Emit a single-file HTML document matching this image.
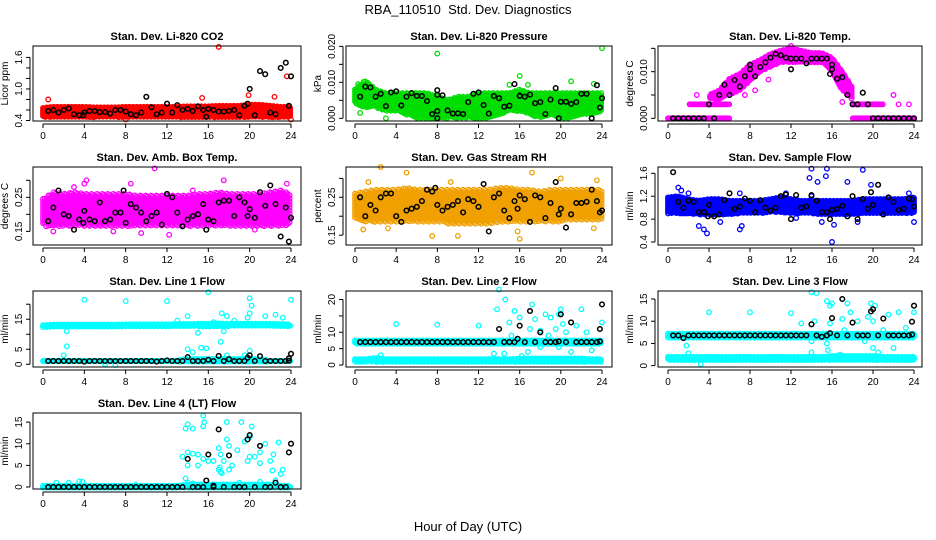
<!DOCTYPE html>
<html><head><meta charset="utf-8"><style>
html,body{margin:0;padding:0;background:#fff;}
svg{display:block;font-family:"Liberation Sans",Arial,sans-serif;}
</style></head><body>
<svg id="chart" width="936" height="540" viewBox="0 0 936 540" xmlns="http://www.w3.org/2000/svg">
<text x="468" y="14" text-anchor="middle" font-size="13" xml:space="preserve">RBA_110510  Std. Dev. Diagnostics</text>
<text x="468" y="531" text-anchor="middle" font-size="13">Hour of Day (UTC)</text>
</svg>
<script>
const H48 = [];
for (let i = 1; i <= 48; i++) H48.push(i * 0.5);
const xTicks = [0, 4, 8, 12, 16, 20, 24];

// Panel 1 CO2
const p1Black = [0.58,0.6,0.55,0.6,0.63,0.52,0.5,0.55,0.58,0.58,0.56,0.56,0.53,0.6,0.6,0.57,0.52,0.5,0.55,0.85,0.65,0.52,0.55,0.72,0.55,0.69,0.6,0.62,0.58,0.67,0.6,0.62,0.6,0.57,0.57,0.58,0.6,0.5,0.68,1.0,0.5,1.34,1.28,0.55,0.52,1.4,1.5,1.24];
const p1Extra = [[19.8,0.72],[23.8,0.68],[15.8,0.47],[3.9,0.5]];
const p1Lo = [0.46,0.46,0.46,0.46,0.46,0.46,0.46,0.46,0.46,0.46,0.46,0.46,0.46,0.46,0.46,0.46,0.46,0.46,0.46,0.46,0.46,0.46,0.46,0.46,0.46];
const p1Hi = [0.64,0.66,0.66,0.66,0.66,0.65,0.65,0.65,0.66,0.66,0.66,0.66,0.66,0.66,0.67,0.67,0.67,0.68,0.68,0.68,0.7,0.7,0.68,0.66,0.66];
const p1Out = [[0.5,0.8],[8,0.42],[15.4,0.83],[17,1.8],[19.9,0.88],[22.4,0.85],[23.6,1.24],[24,0.42]];

// Panel 2 Pressure
const p2Black = [0.006,0.0088,0.0086,0.006,0.0068,0.0034,0.0072,0.0075,0.0036,0.006,0.007,0.0062,0.0062,0.0048,0.0012,0.0078,0.0064,0.0022,0.0013,0.0014,0.0012,0.0045,0.0068,0.0072,0.0037,0.0013,0.0062,0.0056,0.0032,0.0035,0.0095,0.0062,0.006,0.0066,0.0042,0.0045,0.0012,0.0052,0.0084,0.0046,0.0046,0.004,0.0045,0.0068,0.0068,0,0.0092,0.0056];
const p2Extra = [[8,0],[8,0.002],[19.8,0],[23.8,0.003],[8,0.0065],[16,0.0063]];
const p2Lo = [0.004,0.003,0.003,0.002,0.002,0.001,0,0,0,0,0,0,0,0,0.001,0.002,0.002,0.001,0,0.001,0,0,0.001,0.001,0.002];
const p2Hi = [0.008,0.0105,0.008,0.007,0.007,0.007,0.007,0.007,0.006,0.005,0.006,0.006,0.007,0.007,0.007,0.007,0.008,0.007,0.007,0.007,0.007,0.007,0.007,0.007,0.007];
const p2Out = [[0.3,0.0095],[0.5,0.0015],[3,0],[8,0.018],[16,0.0118],[16.8,0.0093],[21,0.0103],[23.2,0.0096],[24,0.0195],[15,0.0093]];

// Panel 3 Temp
const p3Black = [0,0,0,0,0,0,0,0.003,0,0.005,0.0072,0.005,0.0082,0.0068,0.009,0.0115,0.009,0.011,0.012,0.013,0.0138,0.0135,0.013,0.0128,0.0128,0.0128,0.0118,0.0128,0.0128,0.0128,0.0128,0.0105,0.0085,0.0088,0.005,0.003,0.003,0.0055,0.003,0,0,0,0,0,0,0,0,0];
const p3Extra = [[8,0.0105],[12,0.0105],[15.8,0.0095],[16,0.0115]];
const p3LoA = [0,0,0,0,0,0,0,null,null,null,null,null,null,null,null,null,null,null,0,0,0,0,0,0,0];
const p3HiA = [0,0,0,0,0,0,0,null,null,null,null,null,null,null,null,null,null,null,0,0,0,0,0,0,0];
const p3LoB = [null,null,0.003,0.003,0.003,0.003,0.003,null,null,null,null,null,null,null,null,null,null,null,0.003,0.003,0.003,0.003,null,null,null];
const p3HiB = [null,null,0.003,0.003,0.003,0.003,0.003,null,null,null,null,null,null,null,null,null,null,null,0.003,0.003,0.003,0.003,null,null,null];
const p3LoC = [null,null,null,null,0.004,0.004,0.005,0.006,0.008,0.01,0.011,0.012,0.012,0.012,0.012,0.012,0.01,0.006,0.004,null,null,null,null,null,null];
const p3HiC = [null,null,null,null,0.005,0.006,0.0085,0.0095,0.0115,0.0125,0.0138,0.0145,0.015,0.0145,0.014,0.014,0.013,0.01,0.0065,null,null,null,null,null,null];
const p3Out = [[2.8,0.005],[4.7,0.004],[7.5,0.005],[8.5,0.006],[9.8,0.0083],[12,0.0155],[17,0.0035],[22,0.005],[22.5,0.003],[23.5,0.003]];

// Panel 4 Amb box
const p4Black = [0.18,0.22,0.27,0.2,0.195,0.155,0.185,0.21,0.185,0.18,0.235,0.18,0.185,0.205,0.205,0.175,0.23,0.22,0.205,0.18,0.195,0.205,0.17,0.26,0.25,0.205,0.165,0.185,0.195,0.2,0.23,0.185,0.18,0.235,0.24,0.24,0.195,0.25,0.235,0.215,0.19,0.265,0.225,0.285,0.23,0.135,0.22,0.19];
const p4Extra = [[23.8,0.12],[15.8,0.155],[19.8,0.195],[3.9,0.175],[7.8,0.27]];
const p4Lo = [0.17,0.165,0.165,0.165,0.165,0.165,0.165,0.165,0.165,0.165,0.165,0.165,0.165,0.165,0.165,0.165,0.165,0.165,0.165,0.165,0.165,0.165,0.165,0.165,0.17];
const p4Hi = [0.245,0.265,0.26,0.265,0.26,0.26,0.26,0.26,0.26,0.255,0.255,0.255,0.255,0.255,0.255,0.26,0.26,0.265,0.26,0.26,0.26,0.26,0.265,0.27,0.26];
const p4Out = [[10.8,0.335],[4.2,0.3],[8.5,0.29],[17.5,0.3],[23.6,0.29],[1,0.15],[12.2,0.14],[9.5,0.145],[3,0.28],[14.5,0.27],[20.5,0.155],[4,0.29],[6.8,0.15],[0.3,0.165]];

// Panel 5 Gas stream RH
const p5Black = [0.25,0.2,0.23,0.215,0.25,0.26,0.26,0.2,0.185,0.215,0.22,0.225,0.24,0.27,0.265,0.23,0.215,0.225,0.23,0.24,0.21,0.245,0.24,0.225,0.285,0.16,0.25,0.26,0.215,0.195,0.24,0.255,0.245,0.185,0.255,0.25,0.195,0.235,0.29,0.22,0.17,0.205,0.235,0.235,0.238,0.27,0.24,0.215];
const p5Extra = [[15.8,0.22],[19.8,0.205],[23.8,0.21],[7.8,0.275]];
const p5Lo = [0.19,0.185,0.185,0.185,0.185,0.185,0.185,0.185,0.185,0.18,0.18,0.18,0.18,0.18,0.185,0.185,0.185,0.185,0.185,0.185,0.185,0.19,0.19,0.19,0.19];
const p5Hi = [0.26,0.265,0.27,0.27,0.27,0.275,0.27,0.27,0.27,0.27,0.27,0.27,0.27,0.27,0.275,0.275,0.27,0.27,0.265,0.27,0.27,0.27,0.27,0.27,0.27];
const p5Out = [[2.5,0.33],[5,0.315],[17.2,0.315],[20,0.3],[23.5,0.295],[0.8,0.165],[3.2,0.168],[7.5,0.148],[10,0.148],[16,0.14],[15.8,0.16],[23.2,0.168],[1.3,0.29],[9.3,0.29]];

// Panel 6 Sample flow
const p6Black = [1.62,1.1,1.0,1.12,1.1,0.92,0.92,1.05,0.85,0.88,1.13,1.25,0.98,1.02,1.16,1.12,0.92,1.13,1.0,0.95,1.0,1.2,1.23,0.8,1.22,1.0,1.02,1.22,1.12,0.92,0.92,0.96,0.98,1.03,0.85,1.2,0.8,1.15,0.98,1.05,1.4,0.88,1.18,1.1,0.96,0.98,1.16,1.02];
const p6Extra = [[15.8,0.8],[19.8,1.27],[3.9,0.85],[23.8,1.15]];
const p6Lo = [0.9,0.9,0.9,0.88,0.88,0.88,0.88,0.9,0.9,0.9,0.92,0.92,0.9,0.9,0.9,0.88,0.88,0.88,0.88,0.9,0.9,0.9,0.9,0.9,0.9];
const p6Hi = [1.18,1.2,1.15,1.12,1.15,1.15,1.12,1.12,1.12,1.12,1.15,1.18,1.15,1.12,1.12,1.12,1.12,1.12,1.12,1.15,1.15,1.15,1.15,1.15,1.18];
const p6Out = [[1,1.35],[1.3,1.3],[3,0.68],[3.5,0.62],[3.8,0.55],[7,1.25],[7,0.62],[7.2,0.68],[5.1,0.75],[14,1.68],[13.8,1.52],[14.6,1.45],[15.5,1.68],[15.4,1.55],[17.5,1.45],[19,1.66],[16,0.4],[16.2,0.7],[15,0.75],[18.5,0.75],[19.8,1.4],[24,0.75],[23.5,1.25],[14,1.2],[12.5,0.82],[2,1.25],[11.5,1.25]];

// Panel 7 Line 1
const p7Black = [1.1,1.1,1.1,1.1,1.1,1.1,1.1,0.9,1.1,1.1,1.1,1.1,1.1,1.1,1.1,1.1,1.1,1.1,1.1,1.1,1.1,0.9,1.1,1.3,1.1,1.1,1.1,2.4,1.1,1.1,1.1,1.5,1.1,2.8,1.1,1.7,1.1,1.1,1.1,3.0,1.1,2.7,1.1,1.1,1.1,1.1,1.1,3.5];
const p7Extra = [[19.8,2.2],[23.8,2.0],[23.8,1.2]];
const p7LoA = [12.3,12.4,12.4,12.4,12.4,12.5,12.5,12.5,12.5,12.5,12.5,12.5,12.6,12.6,12.6,12.6,12.6,12.6,12.6,12.7,12.7,12.7,12.7,12.6,12.6];
const p7HiA = [13.0,13.2,13.2,13.2,13.2,13.2,13.2,13.2,13.3,13.3,13.3,13.3,13.3,13.4,13.4,13.5,13.5,13.6,13.5,13.5,13.5,13.5,13.5,13.4,13.3];
const p7LoB = [0.8,0.8,0.8,0.8,0.8,0.8,0.8,0.8,0.8,0.8,0.8,0.8,0.8,0.8,0.8,0.8,0.8,0.8,0.8,0.8,0.8,0.8,0.8,0.8,0.8];
const p7HiB = [1.4,1.4,1.4,1.4,1.4,1.4,1.4,1.4,1.4,1.4,1.4,1.4,1.4,1.4,1.8,1.8,1.8,1.8,1.8,1.8,1.8,1.6,1.4,1.4,1.4];
const p7Out = [[4,21.5],[8,21],[12,21],[16,24],[20,22],[24,21.5],[2.3,6],[2.3,11],[2,3],[14,5],[15.3,5.5],[15.8,5.3],[14.5,4],[17.2,7.5],[17.3,17],[17.5,11],[14,16],[15,10.5],[20,17],[20.2,19.5],[21.5,16],[22.5,16.5],[23.2,15.5],[6,0],[7,-0.3],[13,14.5],[18.5,14.5],[17.8,3],[19.5,3],[20,4.5],[17.8,16],[16.5,14],[19.8,15.5]];

// Panel 8 Line 2
const p8Black = [7,7,7,7,7,7,7,7,7,7,7,7,7,7,7,7,7,7,7,7,7,7,7,7,7,7,7,11,7,7,7,12,7,16.5,7,10,7,7,7,15.5,7,13,7,7,7,7,7,18.5];
const p8Extra = [[23.8,11],[15.8,8],[19.8,7.2],[23.8,7.2]];
const p8LoA = [6.3,6.3,6.3,6.3,6.3,6.3,6.3,6.3,6.3,6.3,6.3,6.3,6.3,6.3,6.3,6.3,6.3,6.3,6.3,6.3,6.3,6.3,6.3,6.3,6.3];
const p8HiA = [7.5,7.5,7.5,7.5,7.5,7.5,7.5,7.5,7.5,7.5,7.5,7.5,7.5,7.5,7.5,7.5,7.5,7.5,7.5,7.5,7.5,7.5,7.5,7.5,7.5];
const p8LoB = [0.9,0.9,0.9,0.9,0.9,0.9,0.9,0.9,0.9,0.9,0.9,0.9,0.9,0.9,0.9,0.9,0.9,0.9,0.9,0.9,0.9,0.9,0.9,0.9,0.9];
const p8HiB = [1.8,1.8,2.2,1.8,1.8,1.8,1.8,1.8,1.8,1.8,1.8,1.8,1.8,1.8,1.8,1.8,2.0,2.0,2.0,2.0,2.0,2.0,2.0,1.8,1.8];
const p8Out = [[4,12.5],[8,12.3],[12,12],[13.8,17],[14,23],[14.6,20],[14.5,3.5],[15,13],[15.5,16.5],[16,14.5],[17.2,18.5],[17.5,14],[16.2,2.8],[17,11],[18,10.5],[18.5,15.5],[19,14.5],[19.5,11],[20,17],[19.8,15.5],[20.5,10],[22,17],[22.5,10],[23,4.5],[24,13],[21,4],[18,5.5],[19.8,5.5],[16.8,4],[13.5,3.5],[2.5,3],[15.2,9],[18.8,9],[20.2,12.5],[21.5,12]];

// Panel 9 Line 3
const p9Black = [6.8,6.8,6.2,6.8,6.8,6.8,6.8,6.8,6.8,6.8,6.8,6.8,6.8,6.8,6.8,6.8,6.8,6.8,6.8,6.8,6.8,6.8,6.8,6.8,6.8,6.8,6.8,9.3,6.8,6.5,6.8,10.7,6.8,15,6.8,9.7,6.8,6.8,6.8,12.7,6.8,10.6,6.8,6.8,6.8,6.8,6.8,13.5];
const p9Extra = [[23.8,9.9],[15.8,7.3],[19.8,12.2],[23.8,7.0]];
const p9LoA = [6.3,6.3,6.3,6.3,6.3,6.3,6.3,6.3,6.3,6.3,6.3,6.3,6.3,6.3,6.3,6.3,6.3,6.3,6.3,6.3,6.3,6.3,6.3,6.3,6.3];
const p9HiA = [7.2,7.2,7.2,7.2,7.2,7.2,7.2,7.2,7.2,7.2,7.2,7.2,7.2,7.2,7.2,7.2,7.2,7.2,7.2,7.2,7.2,7.2,7.2,7.2,7.2];
const p9LoB = [1.2,1.2,1.2,1.2,1.2,1.2,1.2,1.2,1.2,1.2,1.2,1.2,1.2,1.2,1.2,1.2,1.2,1.2,1.2,1.2,1.2,1.2,1.2,1.2,1.2];
const p9HiB = [2.0,2.0,2.0,2.0,2.0,2.0,2.0,2.0,2.0,2.0,2.0,2.0,2.0,2.0,2.0,2.0,2.2,2.2,2.2,2.2,2.2,2.0,2.0,2.0,2.0];
const p9Out = [[4,12],[8,12],[12,11.8],[13,9.5],[14,16.5],[14.5,16.3],[15.5,14.5],[15.8,13.5],[16,14],[14.3,10],[15.8,9.5],[15.5,5],[14,3],[15.6,3.5],[17.5,14],[17.8,12],[17,10.5],[18.5,10],[19.5,11],[19.8,14],[20.2,13.5],[20,10],[20,4],[21.5,11.5],[22.5,12],[22,4],[23.2,8.5],[24,12],[1.8,4.5],[2,2.8],[3.2,0.3],[14,5.5],[19.2,5.5],[21,8],[17.2,8],[16.8,2.5],[20.5,3]];

// Panel 10 Line 4
const p10Black = [0,0,0,0,0,0,0,0,0,0,0,0,0,0,0,0,0,0,0,0,0,0,0,0,0,0,0,6.5,0,0,0,7.5,0,13.3,0,7.3,0,0,0,12,0,9.5,0,0,1,0,0,10];
const p10Extra = [[15.8,1.5],[19.8,11],[23.8,8],[16.5,0.3]];
const p10Lo = [-0.2,-0.2,-0.2,-0.2,-0.2,-0.2,-0.2,-0.2,-0.2,-0.2,-0.2,-0.2,-0.2,-0.2,-0.2,-0.2,-0.2,-0.2,-0.2,-0.2,-0.2,-0.2,-0.2,-0.2,-0.2];
const p10Hi = [0.3,0.3,0.3,0.3,0.3,0.3,0.3,0.3,0.3,0.3,0.3,0.3,0.3,0.3,0.6,0.6,0.6,0.6,0.6,0.6,0.6,0.6,0.6,0.3,0.3];
const p10Out = [[1.3,1],[2.5,1],[3.5,1.3],[3.8,1.2],[9,0.5],[13.8,13.5],[14,14.5],[14.5,13.5],[15.5,16.5],[15.5,14],[15.6,15],[13.5,7],[14,8],[14,5],[14.5,7.7],[15,7.5],[15,5],[15.5,6.5],[16,6],[16.5,6],[17,9],[17.2,7.5],[17,4],[17.2,3.5],[17.5,6],[17.8,11],[17.8,15],[18,9.5],[18,4],[18.3,5],[18.8,8.5],[19.2,15],[19.5,10.5],[19.8,6],[20,7],[20.5,7],[20.2,14],[20,11.5],[21,8],[21,5.5],[21.5,10],[22,6],[22.2,3.8],[22.3,7.5],[22.8,10.3],[23.2,4],[23,3],[13.8,2],[14,1],[14.5,0.8],[19,1],[21,1.2],[22.5,1.5],[17.1,4.5],[17.3,3.2]];

const NS = 'http://www.w3.org/2000/svg';
const svg = document.getElementById('chart');
function mk(tag, attrs, parent) {
  const e = document.createElementNS(NS, tag);
  for (const k in attrs) e.setAttribute(k, attrs[k]);
  (parent || svg).appendChild(e);
  return e;
}

const cols = [
  {left:33, right:301, x0:43, x24:291},
  {left:346, right:612, x0:355, x24:602},
  {left:658, right:922, x0:668, x24:914}
];
const rows = [{top:46,bottom:121},{top:167,bottom:245},{top:291,bottom:367},{top:413,bottom:489}];

const panels = [
  {name:'co2', title:'Stan. Dev. Li-820 CO2', ylab:'Licor ppm', c:0, r:0, ylim:[0.39,1.817], ticks:[0.4,0.6,0.8,1.0,1.2,1.4,1.6], labels:{'0.4':'0.4','1':'1.0','1.6':'1.6'}, color:'#ff0000', black:p1Black, extra:p1Extra, bands:[[p1Lo,p1Hi]], out:p1Out, dens:1},
  {name:'pressure', title:'Stan. Dev. Li-820 Pressure', ylab:'kPa', c:1, r:0, ylim:[-0.00075,0.0201], ticks:[0,0.005,0.01,0.015,0.02], labels:{'0':'0.000','0.01':'0.010','0.02':'0.020'}, color:'#00dd00', black:p2Black, extra:p2Extra, bands:[[p2Lo,p2Hi]], out:p2Out, dens:1.2},
  {name:'temp', title:'Stan. Dev. Li-820 Temp.', ylab:'degrees C', c:2, r:0, ylim:[-0.00057,0.0155], ticks:[0,0.005,0.01,0.015], labels:{'0':'0.000','0.01':'0.010'}, color:'#ff00ff', black:p3Black, extra:p3Extra, bands:[[p3LoA,p3HiA],[p3LoB,p3HiB],[p3LoC,p3HiC]], out:p3Out, dens:1},
  {name:'amb-box-temp', title:'Stan. Dev. Amb. Box Temp.', ylab:'degrees C', c:0, r:1, ylim:[0.110,0.339], ticks:[0.15,0.2,0.25,0.3], labels:{'0.15':'0.15','0.25':'0.25'}, color:'#ff00ff', black:p4Black, extra:p4Extra, bands:[[p4Lo,p4Hi]], out:p4Out, dens:1.5},
  {name:'gas-stream-rh', title:'Stan. Dev. Gas Stream RH', ylab:'percent', c:1, r:1, ylim:[0.124,0.330], ticks:[0.15,0.2,0.25,0.3], labels:{'0.15':'0.15','0.25':'0.25'}, color:'#f0a000', black:p5Black, extra:p5Extra, bands:[[p5Lo,p5Hi]], out:p5Out, dens:1.5},
  {name:'sample-flow', title:'Stan. Dev. Sample Flow', ylab:'ml/min', c:2, r:1, ylim:[0.348,1.71], ticks:[0.4,0.8,1.2,1.6], labels:{'0.4':'0.4','0.8':'0.8','1.2':'1.2','1.6':'1.6'}, color:'#0000ff', black:p6Black, extra:p6Extra, bands:[[p6Lo,p6Hi]], out:p6Out, dens:1},
  {name:'line1-flow', title:'Stan. Dev. Line 1 Flow', ylab:'ml/min', c:0, r:2, ylim:[-0.9,24.4], ticks:[0,5,10,15,20], labels:{'0':'0','5':'5','15':'15'}, color:'#00ffff', black:p7Black, extra:p7Extra, bands:[[p7LoA,p7HiA],[p7LoB,p7HiB]], out:p7Out, dens:1},
  {name:'line2-flow', title:'Stan. Dev. Line 2 Flow', ylab:'ml/min', c:1, r:2, ylim:[-0.6,22.6], ticks:[0,5,10,15,20], labels:{'0':'0','5':'5','10':'10','20':'20'}, color:'#00ffff', black:p8Black, extra:p8Extra, bands:[[p8LoA,p8HiA],[p8LoB,p8HiB]], out:p8Out, dens:1},
  {name:'line3-flow', title:'Stan. Dev. Line 3 Flow', ylab:'ml/min', c:2, r:2, ylim:[-0.3,16.8], ticks:[0,5,10,15], labels:{'0':'0','5':'5','10':'10','15':'15'}, color:'#00ffff', black:p9Black, extra:p9Extra, bands:[[p9LoA,p9HiA],[p9LoB,p9HiB]], out:p9Out, dens:1},
  {name:'line4-flow', title:'Stan. Dev. Line 4 (LT) Flow', ylab:'ml/min', c:0, r:3, ylim:[-0.46,17.1], ticks:[0,5,10,15], labels:{'0':'0','5':'5','10':'10','15':'15'}, color:'#00ffff', black:p10Black, extra:p10Extra, bands:[[p10Lo,p10Hi]], out:p10Out, dens:1}
];

function circ(g, x, y, color, sw) {
  mk('circle', {cx:x.toFixed(1), cy:y.toFixed(1), r:2.3, fill:'none', stroke:color, 'stroke-width':sw||1.3}, g);
}

panels.forEach(p => {
  const col = cols[p.c], row = rows[p.r];
  const xs = h => col.x0 + (col.x24 - col.x0) * h / 24;
  const ys = v => row.bottom - (v - p.ylim[0]) / (p.ylim[1] - p.ylim[0]) * (row.bottom - row.top);
  const g = mk('g', {});
  
  

  const t = mk('text', {x:(col.left+col.right)/2, y:row.top-6, 'text-anchor':'middle', 'font-size':11, 'font-weight':'bold'}, g);
  t.textContent = p.title;
  
  

  const pts = mk('g', {}, g);
  
  
  const pxPerHr = (col.x24 - col.x0) / 24;
  const dxH = 1.2 * p.dens / pxPerHr;
  const dyPx = 2.0 * p.dens;
  p.bands.forEach(b => {
    const lo = b[0], hi = b[1];
    let k = 0;
    for (let h = 0; h <= 24.001; h += dxH, k++) {
      const i = Math.min(23, Math.floor(h));
      const f = h - i;
      if (lo[i] == null || lo[i+1] == null) continue;
      const l = lo[i] + (lo[i+1] - lo[i]) * f;
      const u = hi[i] + (hi[i+1] - hi[i]) * f;
      const yTop = ys(u), yBot = ys(l);
      const off = ((k * 7) % 3) * dyPx / 3;
      if (yBot - yTop < dyPx) { circ(pts, xs(h), (yTop+yBot)/2, p.color); continue; }
      for (let y = yTop + off; y <= yBot + 0.01; y += dyPx) circ(pts, xs(h), y, p.color);
    }
  });
  p.out.forEach(o => circ(pts, xs(o[0]), ys(o[1]), p.color));

  const bl = mk('g', {}, g);
  
  
  const n = Math.min(H48.length, p.black.length);
  for (let i = 0; i < n; i++) circ(bl, xs(H48[i]), ys(p.black[i]), '#000', 1.5);
  p.extra.forEach(o => circ(bl, xs(o[0]), ys(o[1]), '#000', 1.5));

  const box = mk('rect', {x:col.left, y:row.top, width:col.right-col.left, height:row.bottom-row.top, fill:'none', stroke:'#000', 'stroke-width':1}, g);
  
  

  const xa = mk('g', {}, g);
  
  
  const xb = row.bottom + 3;
  mk('line', {x1:xs(0), x2:xs(24), y1:xb, y2:xb, stroke:'#000'}, xa);
  xTicks.forEach(tk => {
    mk('line', {x1:xs(tk), x2:xs(tk), y1:xb, y2:xb+4, stroke:'#000'}, xa);
    const tl = mk('text', {x:xs(tk), y:xb+15, 'text-anchor':'middle', 'font-size':10}, xa);
    tl.textContent = tk;
    
    
  });

  const ya = mk('g', {}, g);
  
  
  const ax = col.left - 3;
  mk('line', {x1:ax, x2:ax, y1:ys(p.ticks[0]), y2:ys(p.ticks[p.ticks.length-1]), stroke:'#000'}, ya);
  p.ticks.forEach(tk => {
    const y = ys(tk);
    mk('line', {x1:ax-4, x2:ax, y1:y, y2:y, stroke:'#000'}, ya);
    const key = String(+tk.toFixed(4));
    if (p.labels[key] !== undefined) {
      const tx = col.left - 11;
      const tl = mk('text', {x:tx, y:y, 'text-anchor':'middle', 'font-size':10, transform:'rotate(-90 '+tx+' '+y.toFixed(1)+')'}, ya);
      tl.textContent = p.labels[key];
      
      
    }
  });
  const yx = col.left - 25, yy = (row.top + row.bottom) / 2;
  const yt = mk('text', {x:yx, y:yy, 'text-anchor':'middle', 'font-size':10, transform:'rotate(-90 '+yx+' '+yy+')'}, g);
  yt.textContent = p.ylab;
  
  
});
</script>
</body></html>
